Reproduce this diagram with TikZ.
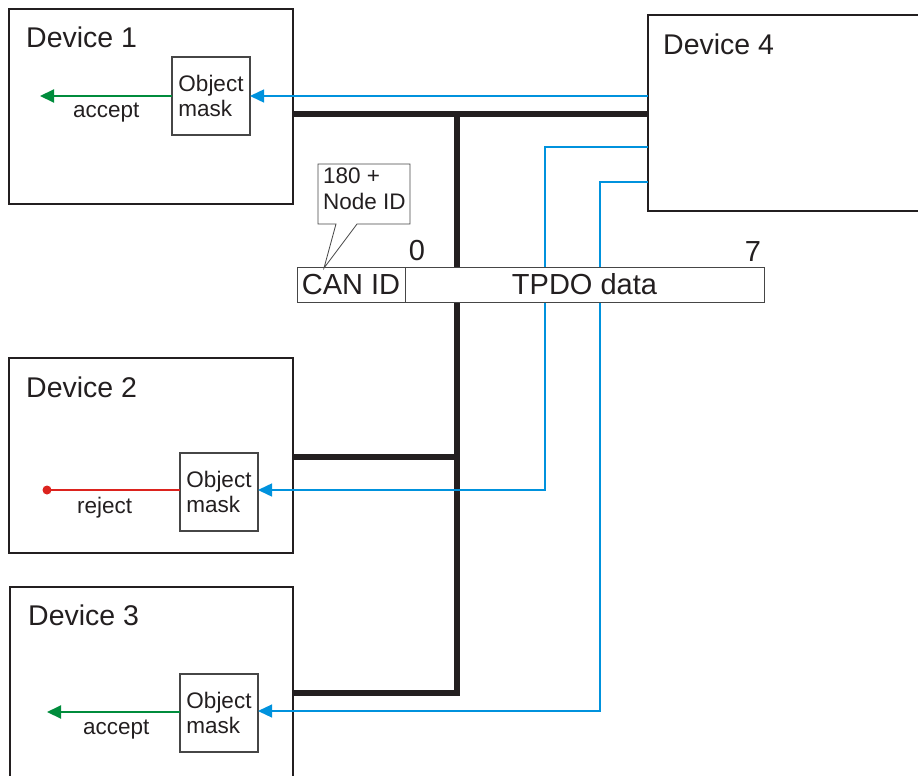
\documentclass[tikz,border=0pt]{standalone}
\usepackage{fontspec}
\setmainfont{Liberation Sans}
\usetikzlibrary{arrows.meta}
\definecolor{ink}{RGB}{35,31,32}
\definecolor{boxgray}{RGB}{70,70,70}
\definecolor{canblue}{RGB}{0,146,221}
\definecolor{okgreen}{RGB}{0,140,60}
\definecolor{nored}{RGB}{220,35,30}
\begin{document}
\begin{tikzpicture}[x=1pt,y=-1pt,
  dev/.style={draw=ink,line width=1.4pt,rectangle,inner sep=0pt,outer sep=0pt,anchor=north west},
  maskbox/.style={draw=boxgray,line width=1.1pt,rectangle,inner sep=0pt,outer sep=0pt,anchor=north west,minimum width=78pt,minimum height=78pt},
  masktxt/.style={align=left,inner sep=0pt,text=ink,font=\fontsize{22.5}{25}\selectfont},
  devlab/.style={anchor=base west,inner sep=0pt,text=ink,font=\fontsize{28.5}{30}\selectfont},
  small/.style={inner sep=0pt,text=ink,font=\fontsize{22.5}{25}\selectfont},
  big/.style={inner sep=0pt,text=ink,font=\fontsize{29}{31}\selectfont},
  bus/.style={draw=ink,line width=6pt,line join=miter,line cap=butt},
  sig/.style={draw=canblue,line width=1.5pt,-{Triangle[length=14pt,width=13pt]}},
  okarrow/.style={draw=okgreen,line width=2pt,-{Triangle[length=14pt,width=13pt]}},
  framebox/.style={draw=boxgray,line width=1pt,rectangle,inner sep=0pt,outer sep=0pt,anchor=north west,fill=white}
]
\useasboundingbox (0,0) rectangle (918,776);

% devices
\node[dev,minimum width=284pt,minimum height=195pt] (d1) at (9,9) {};
\node[dev,minimum width=284pt,minimum height=195pt] (d2) at (9,358) {};
\node[dev,minimum width=283pt,minimum height=200pt] (d3) at (10,587) {};
\node[dev,minimum width=290pt,minimum height=196pt] (d4) at (648,15) {};
\node[devlab] (d1l) at (26,48) {Device 1};
\node[devlab] (d2l) at (26,397) {Device 2};
\node[devlab] (d3l) at (28,625) {Device 3};
\node[devlab] (d4l) at (663,55) {Device 4};

% object masks
\node[maskbox] (m1) at (172,57) {};
\node[maskbox] (m2) at (180,453) {};
\node[maskbox] (m3) at (180,674) {};
\node[masktxt] (m1t) at (m1.center) {Object\\mask};
\node[masktxt] (m2t) at (m2.center) {Object\\mask};
\node[masktxt] (m3t) at (m3.center) {Object\\mask};

% outputs
\coordinate (o1) at (40,96);
\coordinate (o2) at (47,490);
\coordinate (o3) at (47,712);
\draw[okarrow] (m1.west |- o1) -- (o1);
\draw[draw=nored,line width=2pt] (m2.west |- o2) -- (o2);
\fill[nored] (o2) circle (4.5pt);
\draw[okarrow] (m3.west |- o3) -- (o3);
\node[small,anchor=base west] (a1) at (73,117) {accept};
\node[small,anchor=base west] (r2) at (77,513) {reject};
\node[small,anchor=base west] (a3) at (83,734) {accept};

% bus
\coordinate (jt) at (457,114);
\coordinate (j2) at (457,457);
\coordinate (jb) at (457,693);
\draw[bus] (d1.east |- jt) -- (d4.west |- jt);
\draw[bus] (d3.east |- jb) -- (jb) -- (jt);
\draw[bus] (d2.east |- j2) -- (j2);

% blue signal lines
\coordinate (b2) at (545,147);
\coordinate (b3) at (600,182);
\draw[sig] (d4.west |- 0,96) -- (m1.east |- 0,96);
\draw[sig] (d4.west |- b2) -- (b2) -- (b2 |- 0,490) -- (m2.east |- 0,490);
\draw[sig,line width=1.2pt] (d4.west |- b3) -- (b3) -- (b3 |- 0,711) -- (m3.east |- 0,711);

% frame
\node[framebox,minimum width=108pt,minimum height=35pt] (can) at (297,267) {};
\node[framebox,minimum width=359pt,minimum height=35pt] (tpdo) at (405,267) {};
\node[big] (cant) at (can.center) {CAN ID};
\node[big] (tpdot) at (tpdo.center) {TPDO data};
\node[big,anchor=base] (z0) at (417,260) {0};
\node[big,anchor=base] (z7) at (753,261) {7};

% callout
\coordinate (tip) at (324,268);
\draw[draw=boxgray,line width=0.8pt,fill=white,line join=miter]
  (318,164) -- (410,164) -- (410,224) -- (357,224) -- (tip) -- (336,224) -- (318,224) -- cycle;
\node[small,align=left,anchor=north west,font=\fontsize{22.5}{26}\selectfont] (cl) at (323,168) {180 +\\Node ID};
\end{tikzpicture}
\end{document}
